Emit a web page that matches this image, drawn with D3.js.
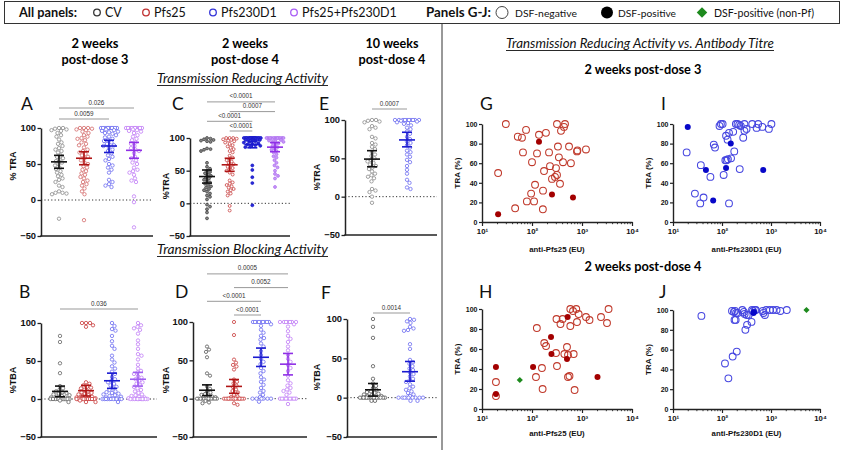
<!DOCTYPE html>
<html><head><meta charset="utf-8">
<script src="https://cdn.jsdelivr.net/npm/d3@7"></script>
<style>body{margin:0;background:#fff}svg{display:block}</style>
</head><body>
<svg id="chart" width="845" height="450"></svg>
<script>
// ---------------- DATA ----------------
const groups = ["CV","Pfs25","Pfs230D1","Pfs25+Pfs230D1"];
const groups2 = ["CV","Pfs230D1"];

// A: %TRA, 2 weeks post-dose 3
const traA_CV = [100,100,99,98,97,96,93,90,88,84,80,78,75,72,70,68,66,62,60,58,56,54,52,50,48,45,43,40,38,35,33,30,28,25,20,18,12,10,10,9,8,-26];
const traA_Pfs25 = [100,100,100,99,98,97,95,93,90,88,86,85,83,80,78,76,73,70,68,66,64,62,60,58,55,52,50,47,45,42,40,37,35,32,30,27,25,22,20,16,12,8,-28];
const traA_Pfs230 = [100,100,100,100,100,100,100,100,100,100,100,100,98,97,96,95,94,93,92,90,88,87,85,83,82,80,78,76,75,73,70,68,65,62,60,57,55,50,48,45,42,38,28,25,22,20,18];
const traA_Combo = [100,100,100,100,100,100,100,100,100,100,98,97,96,95,93,90,88,85,83,80,78,75,72,70,68,65,60,58,55,52,50,45,42,40,38,35,30,27,25,5,-3,-38];
const meanA = [53,58,75,69], ciLoA = [44,49,66,58], ciHiA = [62,67,83,80];
const sigA = [["CV","Pfs230D1","0.0059"],["CV","Pfs25+Pfs230D1","0.026"]];

// C: %TRA, 2 weeks post-dose 4
const traC_CV = [100,99,98,97,96,95,94,84,83,82,80,62,56,53,50,48,46,44,42,40,38,36,34,32,30,28,26,24,22,20,18,15,12,10,6,-2,-5,-9,-14,-23];
const traC_Pfs25 = [100,100,100,99,98,97,96,95,93,91,89,87,85,83,80,78,73,70,68,66,64,62,60,58,56,54,52,50,47,44,35,32,30,28,26,24,22,20,18,15,12,-4,-11];
const traC_Pfs230 = [100,100,100,100,100,100,100,100,100,100,100,100,100,100,100,100,100,100,100,100,100,100,99,99,98,98,97,97,96,95,94,93,92,91,90,89,88,87,86,58,51,40,31,-3];
const traC_Combo = [100,100,100,100,100,100,100,100,100,100,100,100,98,97,96,95,94,93,92,90,88,86,84,82,80,78,75,72,70,66,62,58,55,50,45,42,38,25];
const meanC = [41,59,90,86], ciLoC = [31,49,85,79], ciHiC = [51,69,95,93];
const sigC = [["Pfs25","Pfs230D1","<0.0001"],["CV","Pfs230D1","<0.0001"],["Pfs25","Pfs25+Pfs230D1","0.0007"],["CV","Pfs25+Pfs230D1","<0.0001"]];

// E: %TRA, 10 weeks post-dose 4
const traE_CV = [100,100,99,98,97,92,90,88,78,76,70,68,65,62,58,55,53,50,48,46,44,42,40,38,36,33,30,28,26,24,20,10,8,6,0,-8];
const traE_Pfs230 = [100,100,100,100,100,100,100,100,100,100,99,98,97,96,95,93,90,88,85,82,78,75,72,70,67,64,60,58,55,52,48,45,40,35,30,22,18,12,10];
const meanE = [49,74], ciLoE = [39,65], ciHiE = [60,84];
const sigE = [["CV","Pfs230D1","0.0007"]];

// B: %TBA, 2 weeks post-dose 3
const tbaB_CV = [83,75,47,34,17,14,12,10,9,8,7,6,5,4,3,2,2,1,1,0,0,0,0,0,0,0,0,0,0,0,0,0,0,0,-2,-4];
const tbaB_Pfs25 = [100,100,100,97,95,22,20,18,16,15,14,12,10,9,8,7,6,5,4,3,2,2,1,1,0,0,0,0,0,0,0,0,0,0,0,0,0,0,0,0,-2,-4,-4];
const tbaB_Pfs230 = [100,96,92,90,83,76,70,66,57,52,48,43,40,36,33,29,26,24,22,20,18,16,14,12,10,9,8,7,6,5,4,3,2,1,1,0,0,0,0,0,0,0,0,0,0,0,-4];
const tbaB_Combo = [100,97,95,93,91,86,77,72,66,59,57,52,45,40,37,35,33,30,28,26,24,22,20,18,16,14,12,10,8,6,5,4,3,2,1,0,0,0,0,0,0,0,0,0,0,0,0];
const meanB = [10,11,24,26], ciLoB = [3,4,14,17], ciHiB = [17,18,34,35];
const sigB = [["CV","Pfs25+Pfs230D1","0.036"]];

// D: %TBA, 2 weeks post-dose 4
const tbaD_CV = [68,64,61,54,33,30,16,13,10,8,6,5,4,3,2,1,0,0,0,0,0,0,0,0,0,0,0,0,0,-3,-5,-6];
const tbaD_Pfs25 = [100,83,51,47,44,42,38,25,22,20,17,15,12,10,8,5,3,2,0,0,0,0,0,0,0,0,0,0,0,0,0,0,0,0,-6,-8];
const tbaD_Pfs230 = [100,100,100,100,100,100,100,100,100,97,95,90,86,82,79,77,72,68,62,57,52,48,45,40,36,33,28,25,22,18,14,10,8,5,2,0,0,0,0,0,0,-4];
const tbaD_Combo = [100,100,100,100,100,100,100,97,94,88,82,78,74,68,63,57,52,48,44,40,36,30,24,20,17,14,12,10,8,5,0,0,0,0,0,0,0,0,0,-7];
const meanD = [11,16,54,45], ciLoD = [4,7,42,31], ciHiD = [18,25,66,59];
const sigD = [["Pfs25","Pfs230D1","<0.0001"],["CV","Pfs230D1","<0.0001"],["Pfs25","Pfs25+Pfs230D1","0.0052"],["CV","Pfs25+Pfs230D1","0.0005"]];

// F: %TBA, 10 weeks post-dose 4
const tbaF_CV = [100,90,76,40,24,18,15,12,10,8,7,6,5,4,3,2,2,1,0,0,0,0,0,0,0,0,0,0,0,0,0,0,-4,-4];
const tbaF_Pfs230 = [100,99,97,95,90,88,86,85,68,62,48,45,43,40,37,35,32,30,27,24,22,20,17,14,12,10,8,6,4,2,0,0,0,0,0,0,0,0,0,-4,-4];
const meanF = [10,33], ciLoF = [2,21], ciHiF = [18,46];
const sigF = [["CV","Pfs230D1","0.0014"]];

const dotTicks = [-50,0,50,100];

// G: anti-Pfs25 (EU) vs TRA, 2 weeks post-dose 3
const gNegEU  = [30,21,52,63,76,66,100,96,79,110,46,115,126,138,190,166,165,174,219,229,251,288,316,302,316,330,345,363,380,417,436,457,550,600,794,810,1200];
const gNegTRA = [100,50,87,86,94,71,61,29,21,21,14,38,70,89,91,32,13,52,71,57,44,46,48,55,100,77,66,39,93,61,97,100,77,60,72,73,74];
const gPosEU  = [138,21,251,660];
const gPosTRA = [82,8,28,25];

// I: anti-Pfs230D1 (EU) vs TRA, 2 weeks post-dose 3
const iNegEU  = [19,28,36,37,42,58,68,72,89,95,103,108,117,124,121,130,132,139,153,139,169,178,192,207,224,230,241,271,287,287,317,414,508,547,664,905,1020];
const iNegTRA = [71,29,19,58,25,46,79,76,98,100,100,48,63,63,88,84,64,91,65,19,92,72,100,100,99,54,98,86,100,93,95,100,96,100,97,95,100];
const iPosEU  = [20,47,66,121,151,693];
const iPosTRA = [97,53,22,55,80,53];

// H: anti-Pfs25 (EU) vs TRA, 2 weeks post-dose 4
const hNegEU  = [19,19,120,125,158,163,176,191,302,316,309,371,410,444,501,525,525,562,584,584,661,681,711,768,794,856,1202,1413,2398,3162,3400];
const hNegTRA = [27,13,32,81,41,20,66,63,56,43,90,85,90,55,62,54,32,33,100,83,98,55,19,100,87,95,92,89,92,86,100];
const hPosEU  = [19,19,105,240,245,501,516,2042];
const hPosTRA = [15,42,42,72,55,50,92,32];
const hNonPfEU = [57], hNonPfTRA = [29];

// J: anti-Pfs230D1 (EU) vs TRA, 2 weeks post-dose 4
const jNegEU  = [38,115,135,165,200,300,325,400,180,190,160,175,185,195,210,260,280,290,320,350,410,430,470,490,680,700,750,800,950,1100,1300,1550,2100];
const jNegTRA = [94,46,31,53,58,80,85,88,90,90,99,98,99,97,97,100,98,96,95,95,100,99,100,100,99,97,95,100,100,100,100,99,100];
const jPosEU  = [440,450];
const jPosTRA = [97,98];
const jNonPfEU = [5300], jNonPfTRA = [100];

const traTicks = [0,20,40,60,80,100];
const euTicks = [10,100,1000,10000];
const euTickLabels = ["10¹","10²","10³","10⁴"];

// ---------------- DRAWING ----------------
const svg = d3.select("#chart");
const SANS = "'Liberation Sans', Arial, sans-serif";
const CAL = "Lato, 'Open Sans', sans-serif";

function fit(sel, w){ const n = sel.node(); const l = n.getComputedTextLength(); if (l > 0){ const fs = parseFloat(sel.attr("font-size")); sel.attr("font-size", (fs*w/l).toFixed(2)); } return sel; }

// legend box
svg.append("rect").attr("x",4.5).attr("y",1.5).attr("width",835).attr("height",22)
  .attr("fill","none").attr("stroke","#333").attr("stroke-width",1);
svg.append("line").attr("x1",442).attr("x2",442).attr("y1",23).attr("y2",450).attr("stroke","#333").attr("stroke-width",1);

const lg = svg.append("g").attr("font-family",CAL).attr("fill","#111");
fit(lg.append("text").attr("x",19).attr("y",17).attr("font-size",12.5).attr("font-weight","bold").text("All panels:"),58);
const legCols = [["#333",97,"CV"],["#c03030",146,"Pfs25"],["#3232d8",213,"Pfs230D1"],["#a85cf5",294,"Pfs25+Pfs230D1"]];
legCols.forEach(d=>{
  lg.append("circle").attr("cx",d[1]).attr("cy",12.5).attr("r",3.3).attr("fill","none").attr("stroke",d[0]).attr("stroke-width",1.3);
  lg.append("text").attr("x",d[1]+8).attr("y",17).attr("font-size",12.5).text(d[2]);
});
fit(lg.append("text").attr("x",426).attr("y",17).attr("font-size",12.5).attr("font-weight","bold").text("Panels G-J:"),65);
lg.append("circle").attr("cx",502).attr("cy",12.5).attr("r",6).attr("fill","none").attr("stroke","#444").attr("stroke-width",1);
fit(lg.append("text").attr("x",515).attr("y",16.5).attr("font-size",10.5).text("DSF-negative"),62);
lg.append("circle").attr("cx",607).attr("cy",12.5).attr("r",6).attr("fill","#000");
fit(lg.append("text").attr("x",618).attr("y",16.5).attr("font-size",10.5).text("DSF-positive"),58);
lg.append("path").attr("d",d3.symbol(d3.symbolDiamond2, 70)()).attr("transform","translate(702,12.5)").attr("fill","#1d8a1d");
fit(lg.append("text").attr("x",714).attr("y",16.5).attr("font-size",10.5).text("DSF-positive (non-Pf)"),100);

// column titles
function title2(cx, l1, l2, w1, w2){
  fit(svg.append("text").attr("x",cx).attr("y",48).attr("text-anchor","middle").attr("font-family",CAL).attr("font-weight","bold").attr("font-size",13).text(l1), w1);
  fit(svg.append("text").attr("x",cx).attr("y",64).attr("text-anchor","middle").attr("font-family",CAL).attr("font-weight","bold").attr("font-size",13).text(l2), w2);
}
title2(95,"2 weeks","post-dose 3",47,67);
title2(245,"2 weeks","post-dose 4",46,68);
title2(392,"10 weeks","post-dose 4",53,67);

function header(x, y, w, txt){
  const t = svg.append("text").attr("x",x).attr("y",y).attr("font-family",CAL).attr("font-style","italic").attr("font-size",13).attr("fill","#111").text(txt);
  fit(t, w);
  svg.append("line").attr("x1",x).attr("x2",x+w).attr("y1",y+2.5).attr("y2",y+2.5).attr("stroke","#111").attr("stroke-width",0.9);
}
header(157,83,171,"Transmission Reducing Activity");
header(157,254,171,"Transmission Blocking Activity");
header(506,48,268,"Transmission Reducing Activity vs. Antibody Titre");
fit(svg.append("text").attr("x",643).attr("y",74).attr("text-anchor","middle").attr("font-family",CAL).attr("font-weight","bold").attr("font-size",13).text("2 weeks post-dose 3"),117);
fit(svg.append("text").attr("x",643).attr("y",271).attr("text-anchor","middle").attr("font-family",CAL).attr("font-weight","bold").attr("font-size",13).text("2 weeks post-dose 4"),117);

function letter(x,y,t){ svg.append("text").attr("x",x).attr("y",y).attr("font-family",CAL).attr("font-size",17.5).attr("fill","#111").text(t); }

// beeswarm
function swarm(values, cx, y, r, cap){
  const pts = values.map(v=>({v, y:y(v), x:cx}));
  const order = pts.slice().sort((a,b)=>a.y-b.y);
  const placed = [];
  const thr = 2*r + 0.3;
  const cands = [0]; for (let s=0.5; s<=cap; s+=0.5) cands.push(s,-s);
  order.forEach(p=>{
    let best = 0, bestD = -1;
    const near = placed.filter(q=>Math.abs(q.y-p.y) < thr);
    for (const dx of cands){
      let md = Infinity;
      for (const q of near){ const d = Math.hypot(cx+dx-q.x, p.y-q.y); if (d<md) md=d; }
      if (md >= thr){ best = dx; bestD = md; break; }
      if (md > bestD + 0.05){ bestD = md; best = dx; }
    }
    p.x = cx + best; placed.push(p);
  });
  return pts;
}

function dotPanel(o){
  const y = d3.scaleLinear().domain([-50,100]).range([o.yBot,o.yTop]);
  const x = d3.scalePoint().domain(o.groups).range(o.cols);
  const g = svg.append("g");
  g.append("line").attr("x1",o.x0).attr("x2",o.x1).attr("y1",y(0)).attr("y2",y(0))
    .attr("stroke","#333").attr("stroke-width",1).attr("stroke-dasharray","1.2,2.2");
  o.groups.forEach((grp,i)=>{
    const st = o.styles[i];
    const pts = swarm(o.data[i], x(grp), y, st.r, o.cap);
    g.append("g").selectAll("circle").data(pts).join("circle")
      .attr("cx",d=>d.x).attr("cy",d=>d.y).attr("r",st.r)
      .attr("fill",st.fill).attr("stroke",st.stroke).attr("stroke-width",0.8);
  });
  o.groups.forEach((grp,i)=>{
    const cx = x(grp), c = o.meanColors[i];
    const m = g.append("g").attr("stroke",c).attr("stroke-width",1.6).attr("fill","none");
    m.append("line").attr("x1",cx-8).attr("x2",cx+8).attr("y1",y(o.mean[i])).attr("y2",y(o.mean[i]));
    m.append("line").attr("x1",cx).attr("x2",cx).attr("y1",y(o.lo[i])).attr("y2",y(o.hi[i]));
    m.append("line").attr("x1",cx-5).attr("x2",cx+5).attr("y1",y(o.lo[i])).attr("y2",y(o.lo[i]));
    m.append("line").attr("x1",cx-5).attr("x2",cx+5).attr("y1",y(o.hi[i])).attr("y2",y(o.hi[i]));
  });
  const ax = g.append("g").attr("transform",`translate(${o.x0},0)`)
    .call(d3.axisLeft(y).tickValues(dotTicks).tickSize(3.5).tickSizeOuter(0).tickPadding(1.5));
  ax.select(".domain").attr("stroke","#222").attr("stroke-width",1.5);
  ax.selectAll(".tick line").attr("stroke","#222").attr("stroke-width",1.3);
  ax.selectAll(".tick text").attr("font-family",SANS).attr("font-weight","bold").attr("font-size",9.3).attr("fill","#111");
  g.append("line").attr("x1",o.x0-0.75).attr("x2",o.x1).attr("y1",o.yBot).attr("y2",o.yBot).attr("stroke","#222").attr("stroke-width",1.5);
  g.append("text").attr("transform",`translate(${o.labX},${o.labY}) rotate(-90)`).attr("text-anchor","middle")
    .attr("font-family",SANS).attr("font-weight","bold").attr("font-size",9).attr("fill","#111").text(o.ylabel);
  o.sig.forEach((s,i)=>{
    const yy = o.yTop - o.sigBase - i*o.sigStep;
    g.append("line").attr("x1",x(s[0])).attr("x2",x(s[1])).attr("y1",yy).attr("y2",yy).attr("stroke","#999").attr("stroke-width",1);
    g.append("text").attr("x",(x(s[0])+x(s[1]))/2).attr("y",yy-3.5).attr("text-anchor","middle")
      .attr("font-family",SANS).attr("font-size",6.3).attr("fill","#333").text(s[2]);
  });
  letter(o.letX,o.letY,o.letter);
}

const light = {
  CV:{r:1.7,fill:"#fff",stroke:"#8a8a8a"},
  P25:{r:1.7,fill:"#fff",stroke:"#d36a6a"},
  P230:{r:1.7,fill:"#fff",stroke:"#6c6cf0"},
  Com:{r:1.7,fill:"#fff",stroke:"#c07cf6"}
};
const meanCols4 = ["#111","#b01515","#1a1ad0","#8f2fe6"];

dotPanel({letter:"A",letX:21,letY:110,x0:41,x1:153,yTop:128,yBot:236,cols:[59,134],groups,
  data:[traA_CV,traA_Pfs25,traA_Pfs230,traA_Combo],mean:meanA,lo:ciLoA,hi:ciHiA,sig:sigA,sigBase:9,sigStep:11,
  styles:[light.CV,light.P25,light.P230,light.Com],meanColors:meanCols4,cap:9,ylabel:"% TRA",labX:16,labY:166});
dotPanel({letter:"C",letX:172,letY:110,x0:190,x1:290,yTop:138,yBot:236,cols:[207,275],groups,
  data:[traC_CV,traC_Pfs25,traC_Pfs230,traC_Combo],mean:meanC,lo:ciLoC,hi:ciHiC,sig:sigC,sigBase:7,sigStep:9.7,
  styles:[{r:1.45,fill:"#888",stroke:"#444"},{r:1.45,fill:"#fff",stroke:"#c84040"},{r:1.45,fill:"#2b2bd8",stroke:"#1a1ac8"},{r:1.45,fill:"#c79af7",stroke:"#b070f0"}],
  meanColors:meanCols4,cap:8.5,ylabel:"%TRA",labX:169,labY:186});
dotPanel({letter:"E",letX:319,letY:110,x0:345,x1:437,yTop:120,yBot:235,cols:[372,407],groups:groups2,
  data:[traE_CV,traE_Pfs230],mean:meanE,lo:ciLoE,hi:ciHiE,sig:sigE,sigBase:11,sigStep:10,
  styles:[light.CV,light.P230],meanColors:["#111","#1a1ad0"],cap:13,ylabel:"%TRA",labX:320,labY:177});
dotPanel({letter:"B",letX:19,letY:298,x0:41,x1:157,yTop:323,yBot:437,cols:[60,138],groups,
  data:[tbaB_CV,tbaB_Pfs25,tbaB_Pfs230,tbaB_Combo],mean:meanB,lo:ciLoB,hi:ciHiB,sig:sigB,sigBase:14,sigStep:10,
  styles:[{r:1.7,fill:"#fff",stroke:"#666"},{r:1.7,fill:"#fff",stroke:"#c83a3a"},light.P230,light.Com],meanColors:["#111","#b01515","#1a1ad0","#a060f0"],cap:9.5,ylabel:"%TBA",labX:16,labY:380});
dotPanel({letter:"D",letX:175,letY:298,x0:193,x1:307,yTop:322,yBot:437,cols:[207,288],groups,
  data:[tbaD_CV,tbaD_Pfs25,tbaD_Pfs230,tbaD_Combo],mean:meanD,lo:ciLoD,hi:ciHiD,sig:sigD,sigBase:7,sigStep:13.7,
  styles:[{r:1.6,fill:"#fff",stroke:"#555"},{r:1.6,fill:"#fff",stroke:"#c83a3a"},light.P230,light.Com],meanColors:meanCols4,cap:10,ylabel:"%TBA",labX:169,labY:380});
dotPanel({letter:"F",letX:321,letY:299,x0:347,x1:437,yTop:319,yBot:437,cols:[373,410],groups:groups2,
  data:[tbaF_CV,tbaF_Pfs230],mean:meanF,lo:ciLoF,hi:ciHiF,sig:sigF,sigBase:6,sigStep:10,
  styles:[{r:1.7,fill:"#fff",stroke:"#555"},light.P230],meanColors:["#111","#1a1ad0"],cap:13,ylabel:"%TBA",labX:320,labY:377});

// scatter panels
function scatterPanel(o){
  const x = d3.scaleLog().domain([10,10000]).range([o.x0,o.x1]);
  const y = d3.scaleLinear().domain([0,100]).range([o.y0,o.y100]);
  const g = svg.append("g");
  const minor = [];
  for (let e=1; e<4; e++) for (let k=2; k<10; k++) minor.push(k*Math.pow(10,e));
  const mx = g.append("g").attr("transform",`translate(0,${o.y0})`).call(d3.axisBottom(x).tickValues(minor).tickSize(2.2).tickFormat(""));
  mx.select(".domain").remove();
  mx.selectAll(".tick line").attr("stroke","#222").attr("stroke-width",0.9);
  const ax = g.append("g").attr("transform",`translate(0,${o.y0})`)
    .call(d3.axisBottom(x).tickValues(euTicks).tickSize(4).tickSizeOuter(0).tickFormat((d,i)=>euTickLabels[i]).tickPadding(2));
  ax.select(".domain").attr("stroke","#222").attr("stroke-width",1.4);
  ax.selectAll(".tick line").attr("stroke","#222").attr("stroke-width",1.2);
  ax.selectAll(".tick text").attr("font-family",SANS).attr("font-weight","bold").attr("font-size",7.8).attr("fill","#111");
  const ay = g.append("g").attr("transform",`translate(${o.x0},0)`)
    .call(d3.axisLeft(y).tickValues(traTicks).tickSize(3).tickSizeOuter(0).tickPadding(1.5));
  ay.select(".domain").attr("stroke","#222").attr("stroke-width",1.4);
  ay.selectAll(".tick line").attr("stroke","#222").attr("stroke-width",1.2);
  ay.selectAll(".tick text").attr("font-family",SANS).attr("font-weight","bold").attr("font-size",7).attr("fill","#111");
  g.append("text").attr("transform",`translate(${o.labX},${(o.y0+o.y100)/2}) rotate(-90)`).attr("text-anchor","middle")
    .attr("font-family",SANS).attr("font-weight","bold").attr("font-size",8).attr("fill","#111").text(o.ylabel);
  g.append("text").attr("x",(o.x0+o.x1)/2).attr("y",o.xlabY).attr("text-anchor","middle")
    .attr("font-family",SANS).attr("font-weight","bold").attr("font-size",7.8).attr("fill","#111").text(o.xlabel);
  g.append("g").selectAll("circle").data(o.negEU.map((v,i)=>[v,o.negTRA[i]])).join("circle")
    .attr("cx",d=>x(d[0])).attr("cy",d=>y(d[1])).attr("r",3.4).attr("fill","none").attr("stroke",o.openCol).attr("stroke-width",1.05);
  g.append("g").selectAll("circle").data(o.posEU.map((v,i)=>[v,o.posTRA[i]])).join("circle")
    .attr("cx",d=>x(d[0])).attr("cy",d=>y(d[1])).attr("r",3).attr("fill",o.fillCol);
  if (o.npEU){
    g.append("g").selectAll("path").data(o.npEU.map((v,i)=>[v,o.npTRA[i]])).join("path")
      .attr("d",d3.symbol(d3.symbolDiamond2,24)()).attr("transform",d=>`translate(${x(d[0])},${y(d[1])})`).attr("fill","#1d8a1d");
  }
  letter(o.letX,o.letY,o.letter);
}
scatterPanel({letter:"G",letX:480,letY:110,x0:482,x1:632,y0:222,y100:124,negEU:gNegEU,negTRA:gNegTRA,posEU:gPosEU,posTRA:gPosTRA,
  openCol:"#c0392b",fillCol:"#a30000",ylabel:"TRA  (%)",labX:460,xlabel:"anti-Pfs25 (EU)",xlabY:252});
scatterPanel({letter:"I",letX:661,letY:110,x0:673,x1:820,y0:222,y100:124,negEU:iNegEU,negTRA:iNegTRA,posEU:iPosEU,posTRA:iPosTRA,
  openCol:"#4646e0",fillCol:"#0707c8",ylabel:"TRA (%)",labX:651,xlabel:"anti-Pfs230D1 (EU)",xlabY:252});
scatterPanel({letter:"H",letX:479,letY:298,x0:482,x1:632,y0:409,y100:309,negEU:hNegEU,negTRA:hNegTRA,posEU:hPosEU,posTRA:hPosTRA,npEU:hNonPfEU,npTRA:hNonPfTRA,
  openCol:"#c0392b",fillCol:"#a30000",ylabel:"TRA  (%)",labX:460,xlabel:"anti-Pfs25 (EU)",xlabY:436});
scatterPanel({letter:"J",letX:659,letY:298,x0:673,x1:820,y0:409,y100:310,negEU:jNegEU,negTRA:jNegTRA,posEU:jPosEU,posTRA:jPosTRA,npEU:jNonPfEU,npTRA:jNonPfTRA,
  openCol:"#4646e0",fillCol:"#0707c8",ylabel:"TRA (%)",labX:651,xlabel:"anti-Pfs230D1 (EU)",xlabY:436});
</script>
</body></html>
